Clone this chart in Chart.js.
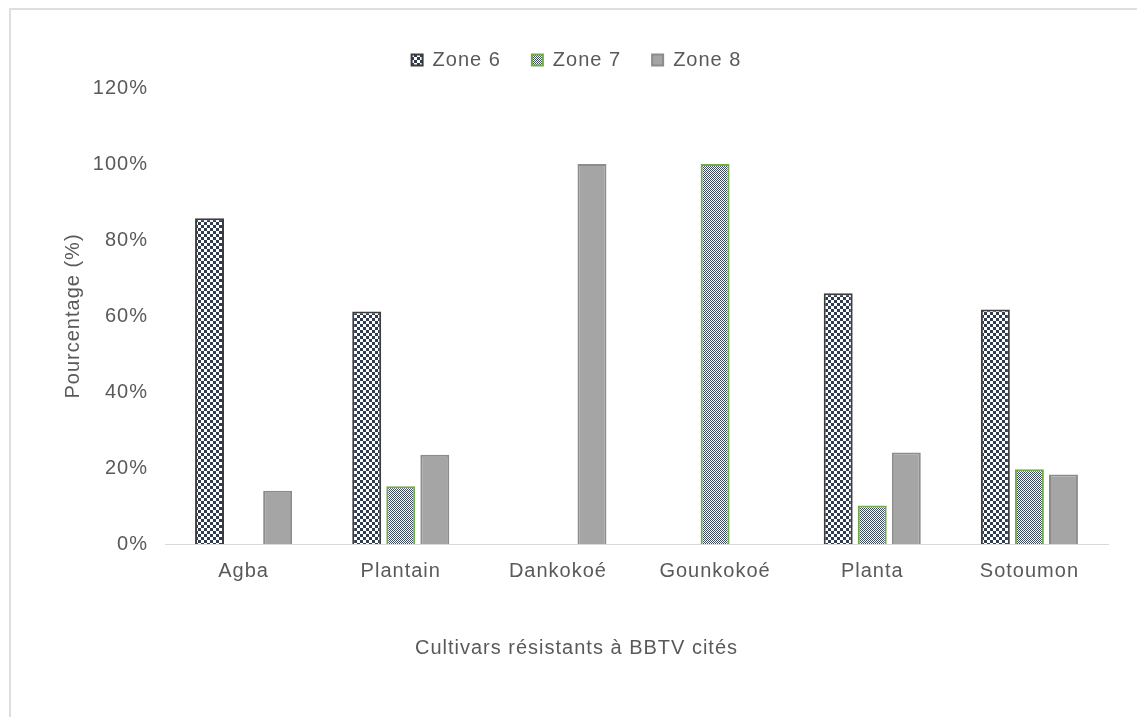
<!DOCTYPE html>
<html lang="fr">
<head>
<meta charset="utf-8">
<title>Cultivars résistants à BBTV cités</title>
<script src="https://cdn.jsdelivr.net/npm/chart.js@4/dist/chart.umd.min.js"></script>
<style>
  html, body { margin: 0; padding: 0; background: #ffffff; overflow: hidden; }
  #wrap { position: relative; width: 1137px; height: 717px; }
  #frame { position: absolute; left: 9px; top: 8px; width: 1300px; height: 900px;
           border: 2px solid #dedede; box-sizing: border-box; pointer-events: none; }
  canvas { position: absolute; left: 0; top: 0; }
</style>
</head>
<body>
<div id="wrap">
  <div id="frame"></div>
  <canvas id="chart" width="1137" height="717"></canvas>
</div>
<script>
// Cultivars cited as resistant to BBTV, share of respondents per zone
const categories = ['Agba', 'Plantain', 'Dankokoé', 'Gounkokoé', 'Planta', 'Sotoumon'];
const seriesNames = ['Zone 6', 'Zone 7', 'Zone 8'];
const zone6 = [0.857, 0.612, 0, 0, 0.660, 0.617];
const zone7 = [0, 0.152, 0, 1.0, 0.101, 0.197];
const zone8 = [0.140, 0.235, 1.0, 0, 0.241, 0.183];
const yTicks = [0, 0.2, 0.4, 0.6, 0.8, 1.0, 1.2];

const textColor = '#595959';
const fontFamily = '"Liberation Sans", Arial, sans-serif';

// Fill patterns for the first two series
function makePattern(size, ink, cells) {
  const c = document.createElement('canvas');
  c.width = size; c.height = size;
  const g = c.getContext('2d');
  g.fillStyle = '#ffffff';
  g.fillRect(0, 0, size, size);
  g.fillStyle = ink;
  cells.forEach(([x, y, w, h]) => g.fillRect(x, y, w, h));
  return g.createPattern(c, 'repeat');
}
const bigChecker = makePattern(6, '#2f3b4e', [[0, 0, 3, 3], [3, 3, 3, 3]]);
const smallChecker = makePattern(2, '#3d4a60', [[0, 0, 1, 1], [1, 1, 1, 1]]);

// Slightly spaced glyphs for all canvas text
const spacing = {
  id: 'spacing',
  beforeUpdate(chart) { chart.ctx.letterSpacing = '1px'; },
  beforeDraw(chart) { chart.ctx.letterSpacing = '1px'; }
};

// Empty strip between the legend and the plot area
const legendGap = {
  id: 'legendGap',
  beforeInit(chart) {
    Chart.layouts.addBox(chart, {
      position: 'top', weight: 0, fullSize: true, options: {},
      left: 0, top: 0, right: 0, bottom: 0, width: 0, height: 0,
      isHorizontal() { return true; },
      update(maxWidth) { this.width = maxWidth; this.height = 8; },
      draw() {}
    });
  }
};

Chart.defaults.font.family = fontFamily;
Chart.defaults.font.size = 20;
Chart.defaults.color = textColor;

new Chart(document.getElementById('chart'), {
  type: 'bar',
  data: {
    labels: categories,
    datasets: [
      { label: seriesNames[0], data: zone6, backgroundColor: bigChecker,
        borderColor: '#3c3c3c', borderWidth: 2 },
      { label: seriesNames[1], data: zone7, backgroundColor: smallChecker,
        borderColor: '#70ad47', borderWidth: 2 },
      { label: seriesNames[2], data: zone8, backgroundColor: '#a5a5a5',
        borderColor: '#8c8c8c', borderWidth: 2 }
    ]
  },
  plugins: [spacing, legendGap],
  options: {
    responsive: false,
    animation: false,
    devicePixelRatio: 1,
    layout: { padding: { left: 45, right: 29, top: 19, bottom: 57 } },
    datasets: { bar: { categoryPercentage: 0.65, barPercentage: 0.85, borderSkipped: 'start' } },
    plugins: {
      tooltip: { enabled: false },
      legend: {
        position: 'top',
        labels: {
          boxWidth: 11, boxHeight: 11, padding: 31,
          color: textColor, font: { size: 20 }
        }
      },
      title: {
        display: true,
        position: 'bottom',
        text: 'Cultivars résistants à BBTV cités',
        color: textColor,
        font: { size: 20, weight: 'normal' },
        padding: 0
      }
    },
    scales: {
      x: {
        grid: { display: false },
        border: { display: true, color: '#d9d9d9', width: 1 },
        ticks: { padding: 7, color: textColor, font: { size: 20 }, maxRotation: 0 },
        afterFit(scale) { scale.height = 92; }
      },
      y: {
        min: 0, max: 1.2,
        grid: { display: false, drawTicks: false },
        border: { display: false },
        afterBuildTicks(scale) { scale.ticks = yTicks.map(v => ({ value: v })); },
        ticks: {
          padding: 17, color: textColor, font: { size: 20 },
          callback: v => Math.round(v * 100) + '%'
        },
        title: { display: true, text: 'Pourcentage (%)',
                 color: textColor, font: { size: 20 }, padding: { top: 16, bottom: 4 } },
        afterFit(scale) { scale.width = 120; }
      }
    }
  }
});
</script>
</body>
</html>
